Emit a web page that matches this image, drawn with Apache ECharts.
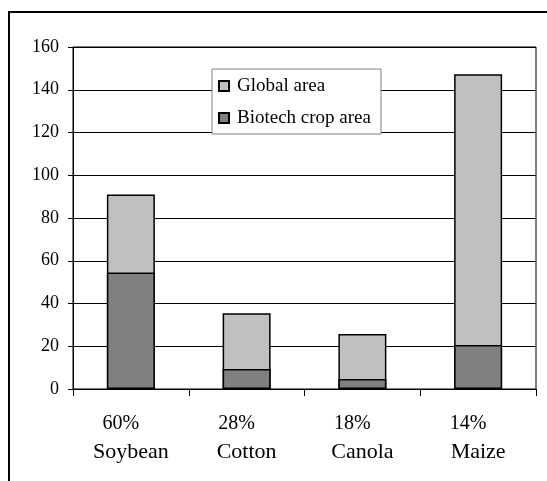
<!DOCTYPE html>
<html>
<head>
<meta charset="utf-8">
<script src="https://cdn.jsdelivr.net/npm/echarts@6/dist/echarts.min.js"></script>
<style>
html,body{margin:0;padding:0;background:#fff;}
#chart{width:547px;height:481px;}
</style>
</head>
<body>
<div id="chart"></div>
<script>
var crops = ['Soybean', 'Cotton', 'Canola', 'Maize'];
var shares = ['60%', '28%', '18%', '14%'];
var globalArea = [91, 35.4, 25.7, 147.3];
var biotechArea = [54.5, 9.4, 4.7, 20.6];
var yTicks = [0, 20, 40, 60, 80, 100, 120, 140, 160];

var categories = crops.map(function (c, i) { return shares[i] + '|' + c; });

var chart = echarts.init(document.getElementById('chart'), null, {renderer: 'canvas'});
var serif = '"Liberation Serif", "DejaVu Serif", serif';
chart.setOption({
  animation: false,
  backgroundColor: '#fff',
  textStyle: {fontFamily: serif, color: '#000'},
  graphic: [{
    type: 'rect',
    shape: {x: 9, y: 12, width: 560, height: 520},
    style: {fill: 'none', stroke: '#000', lineWidth: 2},
    silent: true
  }],
  grid: {
    left: 73, right: 11, top: 47, bottom: 92,
    show: true, borderColor: '#000', borderWidth: 1, backgroundColor: 'transparent'
  },
  legend: {
    orient: 'vertical',
    left: 212, top: 69,
    padding: [7, 10, 6, 6],
    itemGap: 12,
    itemWidth: 10, itemHeight: 10,
    icon: 'rect',
    backgroundColor: '#fff',
    borderColor: '#808080', borderWidth: 1,
    textStyle: {fontFamily: serif, fontSize: 19, color: '#000', lineHeight: 20, padding: [0, 0, 0, 3]},
    data: ['Global area', 'Biotech crop area']
  },
  xAxis: {
    type: 'category',
    data: categories,
    boundaryGap: true,
    axisLine: {show: true, lineStyle: {color: '#000', width: 1}},
    axisTick: {show: true, length: 7, inside: false, lineStyle: {color: '#000'}},
    axisLabel: {
      margin: 21,
      formatter: function (v) {
        var p = v.split('|');
        return '{p|' + p[0] + '}\n{c|' + p[1] + '}';
      },
      rich: {
        p: {fontFamily: serif, fontSize: 20, lineHeight: 28, color: '#000', padding: [0, 20, 0, 0]},
        c: {fontFamily: serif, fontSize: 22, lineHeight: 28, color: '#000'}
      }
    },
    splitLine: {show: false}
  },
  yAxis: {
    type: 'value',
    min: yTicks[0], max: yTicks[yTicks.length - 1], interval: 20,
    axisLine: {show: true, lineStyle: {color: '#000', width: 1}},
    axisTick: {show: true, length: 5, lineStyle: {color: '#000'}},
    axisLabel: {margin: 14, fontFamily: serif, fontSize: 18, color: '#000'},
    splitLine: {show: true, lineStyle: {color: '#000', width: 1}}
  },
  series: [{
    name: 'Global area',
    type: 'bar',
    data: globalArea,
    barWidth: 48,
    barGap: '-100%',
    itemStyle: {color: '#C0C0C0', borderColor: '#000', borderWidth: 1.5},
    z: 2
  }, {
    name: 'Biotech crop area',
    type: 'bar',
    data: biotechArea,
    barWidth: 48,
    barGap: '-100%',
    itemStyle: {color: '#808080', borderColor: '#000', borderWidth: 1.5},
    z: 3
  }]
});
</script>
</body>
</html>
